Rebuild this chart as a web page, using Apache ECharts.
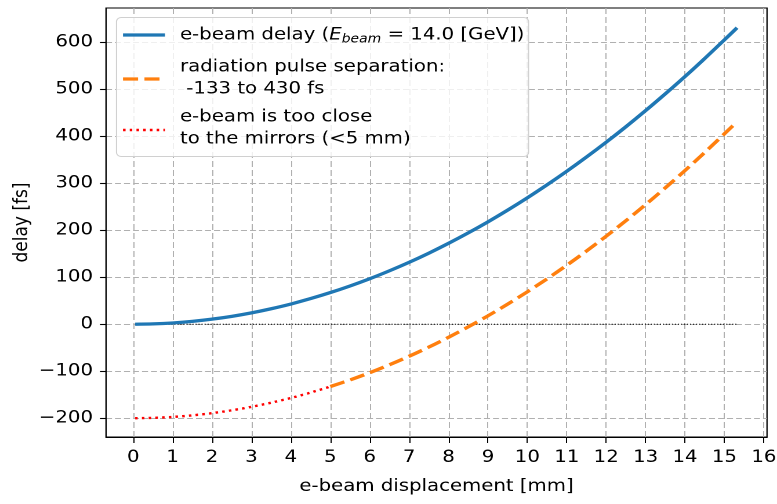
<!DOCTYPE html>
<html>
<head>
<meta charset="utf-8">
<script src="https://cdn.jsdelivr.net/npm/echarts@6/dist/echarts.min.js"></script>
<style>
  html, body { margin: 0; padding: 0; background: #fff; overflow: hidden; }
  #chart { width: 670px; height: 504px; transform: scaleX(1.1597); transform-origin: 0 0; }
</style>
</head>
<body>
<div id="chart"></div>
<script>
// e-beam displacement [mm] and resulting delays [fs]
const beamX = [0.05, 0.5, 1, 1.5, 2, 2.5, 3, 3.5, 4, 4.5, 5, 5.5, 6, 6.5, 7, 7.5, 8, 8.5, 9, 9.5, 10,
  10.5, 11, 11.5, 12, 12.5, 13, 13.5, 14, 14.5, 15, 15.32];
const beamDelay = [0, 0.7, 2.7, 6.1, 10.8, 16.8, 24.2, 33.0, 43.0, 54.5, 67.3, 81.4, 96.8, 113.7, 131.8,
  151.3, 172.2, 194.4, 217.9, 242.8, 269.0, 296.6, 325.5, 355.8, 387.4, 420.3, 454.6, 490.3, 527.2,
  565.6, 605.3, 631.0];

// pulse separation where the beam is far enough from the mirrors (>= 5 mm)
const sepX = [5, 5.5, 6, 6.5, 7, 7.5, 8, 8.5, 9, 9.5, 10, 10.5, 11, 11.5, 12, 12.5, 13, 13.5, 14, 14.5, 15, 15.32];
const sepDelay = [-132.7, -118.6, -103.2, -86.3, -68.2, -48.7, -27.8, -5.6, 17.9, 42.8, 69.0, 96.6, 125.5,
  155.8, 187.4, 220.3, 254.6, 290.3, 327.2, 365.6, 405.3, 431.0];

// pulse separation when the beam is too close to the mirrors (< 5 mm)
const closeX = [0.05, 0.5, 1, 1.5, 2, 2.5, 3, 3.5, 4, 4.5, 5];
const closeDelay = [-200, -199.3, -197.3, -193.9, -189.2, -183.2, -175.8, -167.0, -157.0, -145.5, -132.7];

// zero reference
const zeroX = [0.05, 15.32];
const zeroY = [0, 0];

const xTicks = [0, 1, 2, 3, 4, 5, 6, 7, 8, 9, 10, 11, 12, 13, 14, 15, 16];
const yTicks = [-200, -100, 0, 100, 200, 300, 400, 500, 600];

const FONT = 'DejaVu Sans';
const FS = 17;
// the canvas is drawn narrower and widened by CSS; horizontal layout values are given in page pixels
const SX = 1.1597;
const hx = v => v / SX;
const zip = (xs, ys) => xs.map((x, i) => [x, ys[i]]);
const minus = v => String(v).replace('-', '\u2212');

const chart = echarts.init(document.getElementById('chart'), null, { renderer: 'canvas', devicePixelRatio: 2 });

const gridLine = { show: true, lineStyle: { color: '#b0b0b0', width: 1, type: [6, 3] } };

chart.setOption({
  animation: false,
  backgroundColor: '#fff',
  textStyle: { fontFamily: FONT },
  grid: {
    left: hx(106), top: 8, width: hx(661), height: 429,
    containLabel: false, outerBoundsMode: 'none',
    show: true, borderColor: '#000', borderWidth: 1.1, backgroundColor: 'transparent'
  },
  xAxis: {
    type: 'value', min: -0.69, max: 16.08,
    name: 'e-beam displacement [mm]', nameLocation: 'middle', nameGap: 41,
    nameTextStyle: { fontSize: FS, color: '#000', fontFamily: FONT },
    axisLine: { show: true, onZero: false, lineStyle: { color: '#000', width: 1.1 } },
    axisTick: { show: true, length: 6, customValues: xTicks, lineStyle: { color: '#000', width: 1 } },
    axisLabel: { customValues: xTicks, fontSize: FS, color: '#000', margin: 12, fontFamily: FONT },
    splitLine: gridLine
  },
  yAxis: {
    type: 'value', min: -240, max: 673,
    name: 'delay [fs]', nameLocation: 'middle', nameGap: 64, nameRotate: 90, nameMoveOverlap: false,
    nameTextStyle: { fontSize: FS, color: '#000', fontFamily: FONT },
    axisLine: { show: true, onZero: false, lineStyle: { color: '#000', width: 1 } },
    axisTick: { show: true, length: hx(6), customValues: yTicks, lineStyle: { color: '#000', width: 1.1 } },
    axisLabel: { customValues: yTicks, fontSize: FS, color: '#000', margin: hx(13), fontFamily: FONT, formatter: minus },
    splitLine: { show: true, lineStyle: { color: '#b0b0b0', width: 1, type: [hx(6), hx(3)] } }
  },
  series: [
    {
      name: 'zero', type: 'line', data: zip(zeroX, zeroY), showSymbol: false, silent: true,
      lineStyle: { color: '#000', width: 1, type: [1, 1.6] }, z: 2
    },
    {
      name: 'e-beam delay', type: 'line', data: zip(beamX, beamDelay), showSymbol: false, smooth: 0.3,
      lineStyle: { color: '#1f77b4', width: 3.3 }, z: 3
    },
    {
      name: 'radiation pulse separation', type: 'line', data: zip(sepX, sepDelay), showSymbol: false, smooth: 0.3,
      lineStyle: { color: '#ff7f0e', width: 3.3, type: [13, 5.5] }, z: 3
    },
    {
      name: 'e-beam is too close', type: 'line', data: zip(closeX, closeDelay), showSymbol: false, smooth: 0.3,
      lineStyle: { color: '#ff0000', width: 2.4, type: [2.2, 3.6] }, z: 3
    }
  ],
  graphic: [
    { type: 'rect', z: 100, shape: { x: hx(116.5), y: 17.5, width: hx(412), height: 139, r: 4 },
      style: { fill: 'rgba(255,255,255,0.8)', stroke: '#d0d0d0', lineWidth: 1 } },
    { type: 'line', z: 101, shape: { x1: hx(123), y1: 35, x2: hx(165), y2: 35 },
      style: { stroke: '#1f77b4', lineWidth: 3.3 } },
    { type: 'line', z: 101, shape: { x1: hx(123), y1: 79, x2: hx(165), y2: 79 },
      style: { stroke: '#ff7f0e', lineWidth: 3.3, lineDash: [13, 5.5] } },
    { type: 'line', z: 101, shape: { x1: hx(123), y1: 130, x2: hx(165), y2: 130 },
      style: { stroke: '#ff0000', lineWidth: 2.4, lineDash: [2.2, 3.6] } },
    { type: 'text', z: 101, x: hx(180), y: 35,
      style: {
        text: 'e-beam delay ({i|E}{sub|beam} = 14.0 [GeV])',
        fontFamily: FONT, fontSize: FS, fill: '#000', verticalAlign: 'middle',
        rich: {
          i: { fontFamily: FONT, fontSize: FS, fontStyle: 'italic', fill: '#000' },
          sub: { fontFamily: FONT, fontSize: 12, fontStyle: 'italic', fill: '#000', padding: [9, 0, 0, 0] }
        }
      } },
    { type: 'text', z: 101, x: hx(180), y: 78,
      style: { text: 'radiation pulse separation:\n -133 to 430 fs', fontFamily: FONT, fontSize: FS,
        lineHeight: 22, fill: '#000', verticalAlign: 'middle' } },
    { type: 'text', z: 101, x: hx(180), y: 128,
      style: { text: 'e-beam is too close\nto the mirrors (<5 mm)', fontFamily: FONT, fontSize: FS,
        lineHeight: 22, fill: '#000', verticalAlign: 'middle' } }
  ]
});
</script>
</body>
</html>
